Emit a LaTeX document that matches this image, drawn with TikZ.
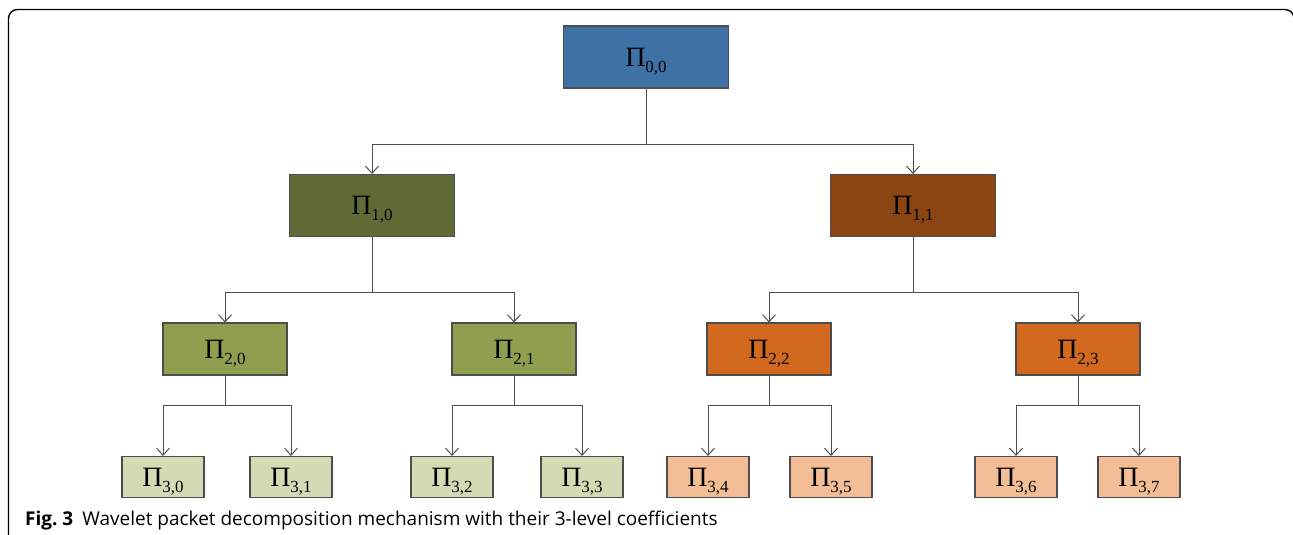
\documentclass[tikz,border=0pt]{standalone}
\usepackage{fontspec}
\setmainfont{Liberation Serif}
\newfontfamily\capfont{Open Sans}
\usetikzlibrary{arrows.meta}
\definecolor{cTop}{HTML}{3E71A5}
\definecolor{cOlive}{HTML}{5F6B36}
\definecolor{cBrown}{HTML}{8B4513}
\definecolor{cGreen}{HTML}{8EA04F}
\definecolor{cOrange}{HTML}{D2691E}
\definecolor{cLGreen}{HTML}{D4DBB4}
\definecolor{cLOrange}{HTML}{F3BE95}
\definecolor{cEdge}{HTML}{4D4D4D}
\newcommand{\pilab}[1]{\fontsize{28}{28}\selectfont Π\raisebox{-6pt}{\fontsize{17}{17}\selectfont #1}}
\tikzset{
  box/.style={draw=cEdge, line width=1.2pt, inner sep=0pt, text height=18.5pt, text depth=0pt, align=center},
  big/.style={box, minimum width=165pt, minimum height=62pt},
  mid/.style={box, minimum width=124pt, minimum height=52pt},
  leaf/.style={box, minimum width=82pt, minimum height=41pt},
  link/.style={draw=cEdge, line width=1pt},
  arr/.style={link, -{Straight Barb[length=7pt,width=13pt,line width=1pt]}}
}
\begin{document}
\begin{tikzpicture}[x=1pt,y=-1pt]
\useasboundingbox (0,0) rectangle (1293,535);
\begin{scope}
\clip (0,0) rectangle (1293,535);
\draw[line width=1.4pt, rounded corners=9pt] (8.5,545) -- (8.5,9.5) -- (1294,9.5) -- (1294,545);
\end{scope}

\node[big, fill=cTop] (p00) at (646,57) {\pilab{0,0}};
\node[big, fill=cOlive] (p10) at (372,205.5) {\pilab{1,0}};
\node[big, fill=cBrown] (p11) at (913,205.5) {\pilab{1,1}};

\node[mid, fill=cGreen] (p20) at (225,349) {\pilab{2,0}};
\node[mid, fill=cGreen] (p21) at (514,349) {\pilab{2,1}};
\node[mid, fill=cOrange] (p22) at (769,349) {\pilab{2,2}};
\node[mid, fill=cOrange] (p23) at (1078,349) {\pilab{2,3}};

\node[leaf, fill=cLGreen] (p30) at (163,477) {\pilab{3,0}};
\node[leaf, fill=cLGreen] (p31) at (291,477) {\pilab{3,1}};
\node[leaf, fill=cLGreen] (p32) at (452,477) {\pilab{3,2}};
\node[leaf, fill=cLGreen] (p33) at (582,477) {\pilab{3,3}};
\node[leaf, fill=cLOrange] (p34) at (708,477) {\pilab{3,4}};
\node[leaf, fill=cLOrange] (p35) at (831,477) {\pilab{3,5}};
\node[leaf, fill=cLOrange] (p36) at (1016,477) {\pilab{3,6}};
\node[leaf, fill=cLOrange] (p37) at (1139,477) {\pilab{3,7}};

\coordinate (j00) at (646,144);
\coordinate (j10) at (372,292);
\coordinate (j11) at (913,292);
\coordinate (j20) at (225,405);
\coordinate (j21) at (514,405);
\coordinate (j22) at (769,405);
\coordinate (j23) at (1078,405);

\draw[link] (p00.south) -- (j00);
\draw[arr] (j00) -| (p10.north);
\draw[arr] (j00) -| (p11.north);

\draw[link] (p10.south) -- (j10);
\draw[arr] (j10) -| (p20.north);
\draw[arr] (j10) -| (p21.north);
\draw[link] (p11.south) -- (j11);
\draw[arr] (j11) -| (p22.north);
\draw[arr] (j11) -| (p23.north);

\draw[link] (p20.south) -- (j20);
\draw[arr] (j20) -| (p30.north);
\draw[arr] (j20) -| (p31.north);
\draw[link] (p21.south) -- (j21);
\draw[arr] (j21) -| (p32.north);
\draw[arr] (j21) -| (p33.north);
\draw[link] (p22.south) -- (j22);
\draw[arr] (j22) -| (p34.north);
\draw[arr] (j22) -| (p35.north);
\draw[link] (p23.south) -- (j23);
\draw[arr] (j23) -| (p36.north);
\draw[arr] (j23) -| (p37.north);

\node[anchor=base west, inner sep=0pt, font=\capfont\fontsize{19}{19}\selectfont] (cap) at (25,525) {\textbf{Fig.~3}\hspace{9pt}Wavelet packet decomposition mechanism with their 3-level coefficients};
\end{tikzpicture}
\end{document}
